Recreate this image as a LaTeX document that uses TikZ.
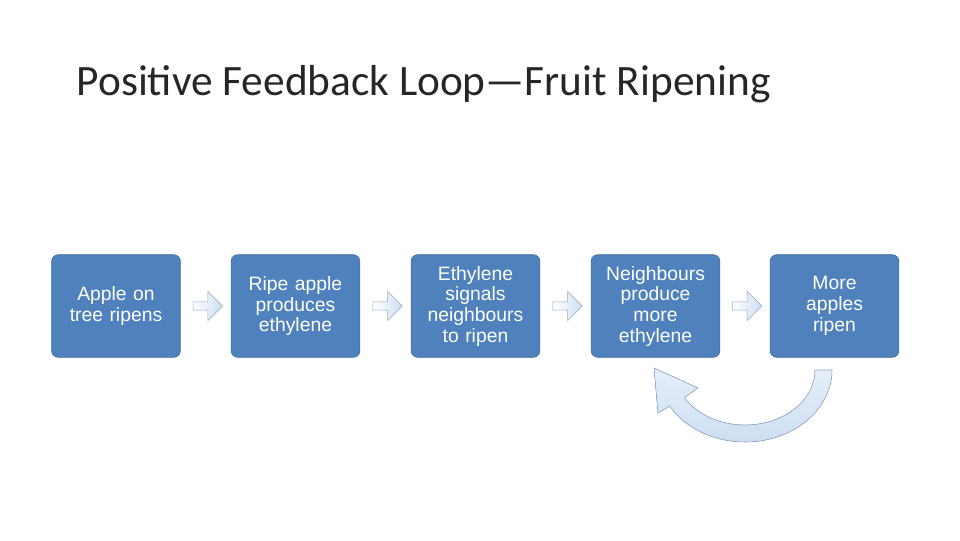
\documentclass[tikz,border=0pt]{standalone}
\usepackage{fontspec}
\setmainfont{Carlito}
\newfontfamily\boxfont{Liberation Sans}
\usetikzlibrary{positioning,shapes.arrows,calc}
\definecolor{stepblue}{RGB}{79,129,189}
\definecolor{stepedge}{RGB}{62,104,156}
\definecolor{arrowfill}{RGB}{205,222,242}
\definecolor{arrowedge}{RGB}{140,170,205}
\tikzset{
  stage/.style={rectangle, rounded corners=5pt, fill=stepblue, draw=stepedge,
    minimum width=93pt, minimum height=77pt, text width=90pt, align=center,
    text=white, font=\boxfont\fontsize{14.5}{15.5}\selectfont},
  link/.style={single arrow, draw=arrowedge, left color=white, right color=arrowfill,
    minimum height=22pt, minimum width=22pt, single arrow head extend=3pt,
    inner sep=1pt},
}
\begin{document}
\begin{tikzpicture}[x=0.75pt,y=-0.75pt]
  \useasboundingbox (0,0) rectangle (960,540);
  \node[anchor=base west, font=\fontsize{32.5}{36}\selectfont, text=black!85] (title) at (72,95)
    {Positive Feedback Loop---Fruit Ripening};

  \node[stage] (A) at (116,306) {Apple on\\tree ripens};
  \node[stage] (B) at (295.5,306) {Ripe apple\\produces\\ethylene};
  \node[stage] (C) at (475.5,306) {Ethylene\\signals\\neighbours\\to ripen};
  \node[stage] (D) at (655.5,306) {Neighbours\\produce\\more\\ethylene};
  \node[stage] (E) at (834.5,306) {More\\apples\\ripen};

  % steps
  \foreach \p/\q in {A/B,B/C,C/D,D/E}
    \node[link] at ($(\p.east)!0.5!(\q.west)$) {};

  % feedback loop
  \fill[top color=arrowfill!50, bottom color=arrowfill, draw=arrowedge]
    (832,370) arc[start angle=0, end angle=150, x radius=87, y radius=72]
    -- (658,413) -- (654,368) -- (698,388) -- (684.4,397.5)
    arc[start angle=150, end angle=0, x radius=70, y radius=55]
    -- cycle;
\end{tikzpicture}
\end{document}
